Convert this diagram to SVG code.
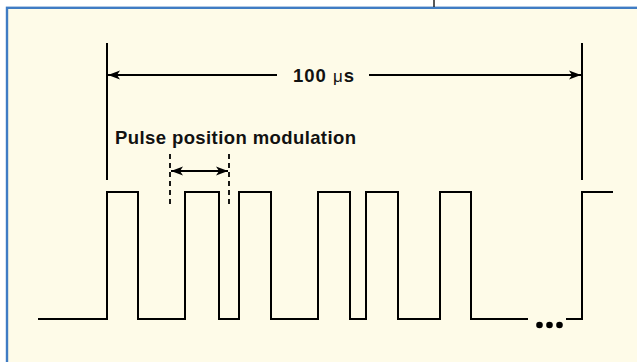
<svg xmlns="http://www.w3.org/2000/svg" width="637" height="362" viewBox="0 0 637 362">
  <style>
    .ln { fill: none; stroke: #000; stroke-width: 2; }
    .dash { fill: none; stroke: #000; stroke-width: 1.8; stroke-dasharray: 5 4; }
    .lbl { font-family: "Liberation Sans", Arial, sans-serif; font-weight: bold; fill: #111; }
  </style>
  <defs>
    <marker id="ah" markerUnits="userSpaceOnUse" markerWidth="14" markerHeight="12" refX="12" refY="5" orient="auto-start-reverse" viewBox="0 0 14 10">
      <path d="M0,0.5 L12,5 L0,9.5 L3,5 Z" fill="#000"/>
    </marker>
  </defs>

  <rect x="0" y="0" width="637" height="362" fill="#ffffff"/>
  <g id="panel">
    <rect x="7" y="7.8" width="640" height="360" fill="#fefbe8" stroke="#3f7cc4" stroke-width="2.4"/>
  </g>
  <g id="tick">
    <line x1="434" y1="0" x2="434" y2="7" stroke="#222" stroke-width="1.5"/>
  </g>

  <g id="waveform">
    <path class="ln" d="M38,319 H107 V192 H138 V319 H185 V192 H219 V319 H239 V192 H271 V319 H318 V192 H350 V319 H366 V192 H398 V319 H440 V192 H471 V319 H528"/>
    <path class="ln" d="M566,319 H582 V192 H613"/>
    <circle cx="539.5" cy="325" r="3.3" fill="#000"/>
    <circle cx="549.5" cy="325" r="3.3" fill="#000"/>
    <circle cx="559.5" cy="325" r="3.3" fill="#000"/>
  </g>

  <g id="period-bounds">
    <line class="ln" x1="107" y1="43" x2="107" y2="180"/>
    <line class="ln" x1="582" y1="43" x2="582" y2="180"/>
  </g>

  <g id="ppm-bounds">
    <line class="dash" x1="170" y1="154" x2="170" y2="208"/>
    <line class="dash" x1="229" y1="154" x2="229" y2="208"/>
  </g>

  <g id="connectors">
    <line class="ln" x1="277" y1="75" x2="108" y2="75" marker-end="url(#ah)"/>
    <line class="ln" x1="369" y1="75" x2="581" y2="75" marker-end="url(#ah)"/>
    <line class="ln" x1="171" y1="171" x2="228" y2="171" marker-start="url(#ah)" marker-end="url(#ah)"/>
  </g>

  <g id="label-period">
    <text class="lbl" x="293" y="82" font-size="18.5" textLength="61" lengthAdjust="spacing">100 <tspan font-weight="normal" font-size="17">μ</tspan>s</text>
  </g>
  <g id="label-ppm">
    <text class="lbl" x="115" y="144" font-size="18.5" textLength="241" lengthAdjust="spacing">Pulse position modulation</text>
  </g>
</svg>
